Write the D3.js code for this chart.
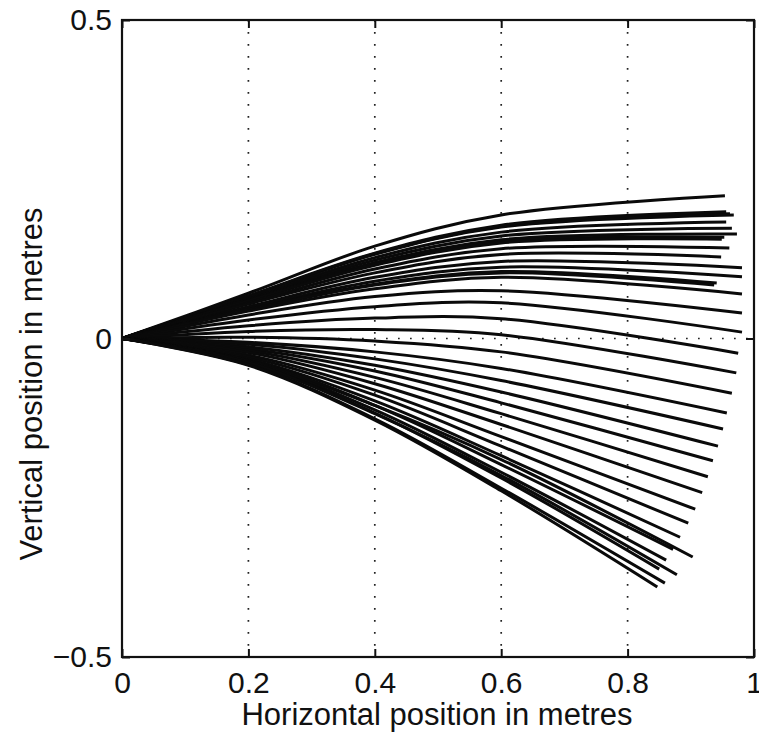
<!DOCTYPE html>
<html>
<head>
<meta charset="utf-8">
<script src="https://cdn.jsdelivr.net/npm/d3@7"></script>
<style>
  html, body { margin: 0; padding: 0; background: #fff; }
  svg { display: block; }
  text { font-family: "Liberation Sans", Arial, Helvetica, sans-serif; fill: #111; }
</style>
</head>
<body>
<svg id="chart" width="759" height="741"></svg>
<script>
// Trajectories: each starts at the origin, passes through sampled heights at
// x = 0.2, 0.4, 0.6 and finishes at its own end point.
const stationX = [0.2, 0.4, 0.6];
const endX = [0.954, 0.968, 0.962, 0.956, 0.956, 0.965, 0.973, 0.953, 0.949, 0.961,
              0.948, 0.981, 0.981, 0.941, 0.937, 0.981, 0.981, 0.981, 0.975, 0.972,
              0.965, 0.957, 0.951, 0.943, 0.935, 0.927, 0.918, 0.907, 0.896, 0.883,
              0.872, 0.903, 0.861, 0.850, 0.878, 0.859, 0.847];
const endY = [0.224, 0.194, 0.196, 0.199, 0.183, 0.173, 0.164, 0.159, 0.156, 0.142,
              0.128, 0.111, 0.097, 0.087, 0.084, 0.070, 0.040, 0.010, -0.023, -0.054,
              -0.086, -0.117, -0.142, -0.169, -0.192, -0.217, -0.242, -0.268, -0.290, -0.312,
              -0.331, -0.343, -0.348, -0.362, -0.371, -0.384, -0.390];
const yAt02 = [0.071, 0.066, 0.066, 0.067, 0.064, 0.062, 0.061, 0.060, 0.059, 0.056,
               0.054, 0.050, 0.048, 0.046, 0.045, 0.043, 0.037, 0.029, 0.020, 0.011,
               0.002, -0.006, -0.009, -0.013, -0.016, -0.019, -0.022, -0.026, -0.029, -0.032,
               -0.034, -0.035, -0.036, -0.038, -0.038, -0.041, -0.042];
const yAt04 = [0.145, 0.132, 0.133, 0.134, 0.127, 0.123, 0.119, 0.117, 0.115, 0.109,
               0.103, 0.096, 0.090, 0.085, 0.084, 0.078, 0.066, 0.050, 0.032, 0.014,
               -0.004, -0.021, -0.032, -0.042, -0.051, -0.061, -0.071, -0.081, -0.089, -0.098,
               -0.105, -0.105, -0.112, -0.117, -0.118, -0.126, -0.128];
const yAt06 = [0.194, 0.175, 0.176, 0.178, 0.167, 0.161, 0.155, 0.152, 0.150, 0.141,
               0.132, 0.121, 0.112, 0.105, 0.103, 0.096, 0.075, 0.056, 0.031, 0.006,
               -0.021, -0.047, -0.066, -0.084, -0.101, -0.118, -0.135, -0.154, -0.169, -0.184,
               -0.198, -0.190, -0.210, -0.219, -0.215, -0.235, -0.239];

const xTicks = [0, 0.2, 0.4, 0.6, 0.8, 1];
const xTickLabels = ["0", "0.2", "0.4", "0.6", "0.8", "1"];
const yTicks = [-0.5, 0, 0.5];
const yTickLabels = ["\u22120.5", "0", "0.5"];
const xGrid = [0.2, 0.4, 0.6, 0.8];
const yGrid = [0];

const margin = { left: 122, top: 20, right: 5, bottom: 84 };
const W = 759, H = 741;
const iw = W - margin.left - margin.right;   // 632
const ih = H - margin.top - margin.bottom;   // 637

const svg = d3.select("#chart");
const g = svg.append("g").attr("transform", `translate(${margin.left},${margin.top})`);

const x = d3.scaleLinear().domain([0, 1]).range([0, iw]);
const y = d3.scaleLinear().domain([-0.5, 0.5]).range([ih, 0]);

// dotted grid
g.append("g").selectAll("line").data(xGrid).join("line")
  .attr("x1", d => x(d)).attr("x2", d => x(d))
  .attr("y1", 0).attr("y2", ih)
  .attr("stroke", "#222").attr("stroke-width", 1.7)
  .attr("stroke-dasharray", "1.7,10.3");
g.append("g").selectAll("line").data(yGrid).join("line")
  .attr("x1", 0).attr("x2", iw)
  .attr("y1", d => y(d)).attr("y2", d => y(d))
  .attr("stroke", "#222").attr("stroke-width", 1.7)
  .attr("stroke-dasharray", "1.7,10.3");

// trajectories
const curves = endX.map((ex, i) => [
  [0, 0],
  [stationX[0], yAt02[i]],
  [stationX[1], yAt04[i]],
  [stationX[2], yAt06[i]],
  [ex, endY[i]]
]);
const line = d3.line()
  .x(d => x(d[0])).y(d => y(d[1]))
  .curve(d3.curveCatmullRom.alpha(0.5));
g.append("g").selectAll("path").data(curves).join("path")
  .attr("d", line)
  .attr("fill", "none")
  .attr("stroke", "#0a0a0a")
  .attr("stroke-width", 3);

// axes with inward ticks on all four sides
const fmtX = d => xTickLabels[xTicks.indexOf(d)];
const fmtY = d => yTickLabels[yTicks.indexOf(d)];

const axB = g.append("g").attr("transform", `translate(0,${ih})`)
  .call(d3.axisBottom(x).tickValues(xTicks).tickFormat(fmtX).tickSize(-8).tickPadding(15));
const axT = g.append("g")
  .call(d3.axisTop(x).tickValues(xTicks).tickFormat("").tickSize(-8));
const axL = g.append("g")
  .call(d3.axisLeft(y).tickValues(yTicks).tickFormat(fmtY).tickSize(-8).tickPadding(10));
const axR = g.append("g").attr("transform", `translate(${iw},0)`)
  .call(d3.axisRight(y).tickValues(yTicks).tickFormat("").tickSize(-8));

[axB, axT, axL, axR].forEach(a => {
  a.select(".domain").remove();
  a.selectAll(".tick line").attr("stroke", "#111").attr("stroke-width", 2);
  a.selectAll("text").attr("font-size", 30).attr("fill", "#111");
});

// frame
g.append("rect").attr("x", 0).attr("y", 0).attr("width", iw).attr("height", ih)
  .attr("fill", "none").attr("stroke", "#111").attr("stroke-width", 2.2);

// axis titles
svg.append("text")
  .attr("x", margin.left + iw / 2 - 1).attr("y", 725)
  .attr("text-anchor", "middle").attr("font-size", 31)
  .text("Horizontal position in metres");
svg.append("text")
  .attr("transform", `translate(42,${384}) rotate(-90)`)
  .attr("text-anchor", "middle").attr("font-size", 31)
  .text("Vertical position in metres");
</script>
</body>
</html>
